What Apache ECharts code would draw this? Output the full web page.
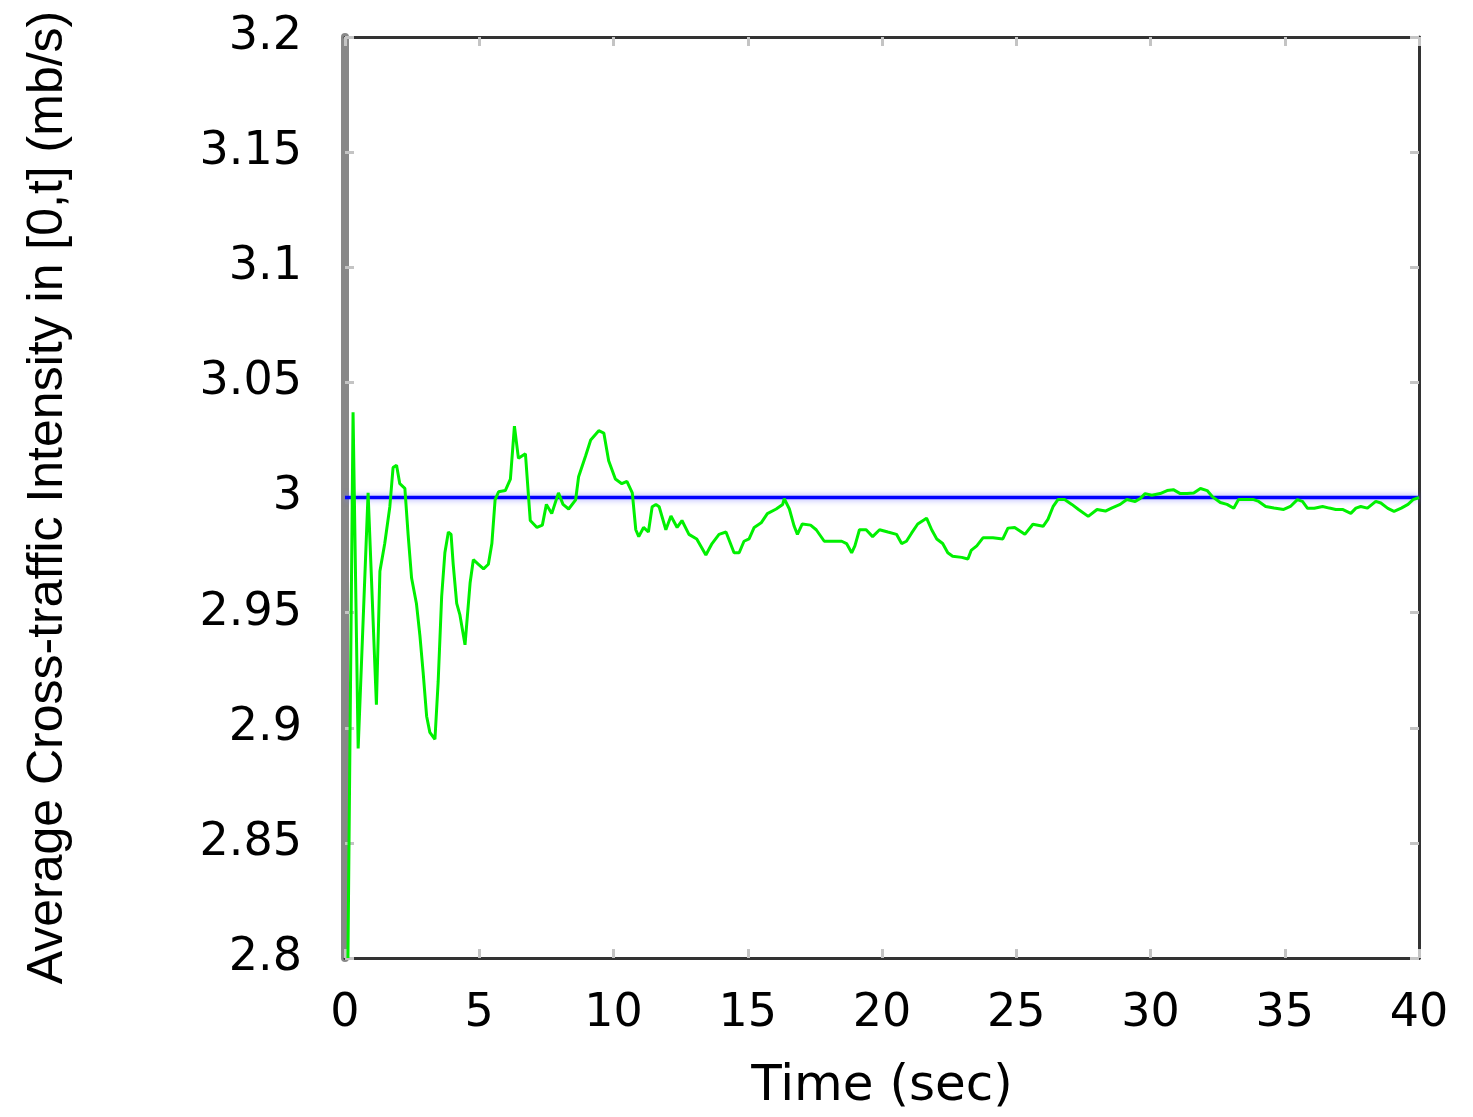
<!DOCTYPE html>
<html>
<head>
<meta charset="utf-8">
<script src="https://cdn.jsdelivr.net/npm/echarts@6/dist/echarts.min.js"></script>
<style>
html,body{margin:0;padding:0;background:#fff;}
#chart{width:1473px;height:1117px;}
</style>
</head>
<body>
<div id="chart"></div>
<script>
// ---- data ----
var timeSec = [0.11,0.30,0.49,0.86,1.17,1.30,1.48,1.67,1.79,1.92,2.04,2.23,2.35,2.48,2.66,2.79,2.91,3.04,3.16,3.35,3.47,3.60,3.72,3.85,3.95,4.03,4.16,4.28,4.47,4.66,4.78,4.97,
  5.16,5.34,5.47,5.59,5.72,5.97,6.16,6.31,6.46,6.72,6.90,7.15,7.35,7.50,7.70,7.95,8.12,8.33,8.59,8.70,8.96,9.15,9.45,9.64,9.82,10.07,10.31,10.50,10.70,10.83,10.94,11.12,11.30,11.44,11.58,11.70,11.95,12.14,12.37,
  12.55,12.81,13.10,13.44,13.67,13.93,14.19,14.49,14.68,14.86,15.05,15.24,15.50,15.73,16.06,16.30,16.36,16.55,16.73,16.85,17.03,17.34,17.55,17.85,18.16,18.50,18.68,18.87,18.99,19.16,19.41,19.65,19.91,20.22,20.54,20.73,20.91,21.10,21.33,21.66,21.85,22.04,22.26,22.45,22.63,22.97,23.20,23.32,23.53,23.76,24.13,24.50,24.69,24.94,
  25.32,25.62,26.00,26.18,26.37,26.55,26.80,27.07,27.32,27.68,28.01,28.32,28.57,28.87,29.12,29.43,29.62,29.80,30.05,30.36,30.62,30.85,31.11,31.36,31.61,31.86,32.11,32.30,32.60,32.85,33.10,33.28,33.53,33.84,34.03,34.29,34.60,34.96,35.21,35.47,35.66,35.85,36.10,36.41,36.66,36.90,37.15,37.46,37.65,37.83,38.08,38.39,38.58,38.84,39.07,39.34,39.59,39.78,40.00];
var avgIntensity = [2.800,3.037,2.891,3.002,2.910,2.968,2.980,2.996,3.013,3.014,3.006,3.004,2.984,2.965,2.954,2.940,2.924,2.905,2.898,2.895,2.920,2.957,2.976,2.985,2.984,2.971,2.954,2.949,2.936,2.963,2.973,2.971,
  2.969,2.971,2.980,2.999,3.0025,3.003,3.008,3.031,3.017,3.019,2.990,2.987,2.988,2.997,2.993,3.002,2.997,2.995,2.999,3.009,3.018,3.025,3.029,3.028,3.016,3.008,3.006,3.007,3.002,2.986,2.983,2.987,2.985,2.996,2.997,2.996,2.986,2.992,2.987,
  2.990,2.984,2.982,2.975,2.980,2.984,2.985,2.976,2.976,2.981,2.982,2.987,2.989,2.993,2.995,2.997,2.9995,2.995,2.9875,2.984,2.9885,2.988,2.986,2.981,2.981,2.981,2.980,2.976,2.979,2.986,2.986,2.983,2.986,2.985,2.984,2.980,2.981,2.9845,2.9885,2.991,2.986,2.982,2.980,2.976,2.9745,2.974,2.9733,2.977,2.979,2.9825,2.9825,2.982,2.9867,2.987,
  2.984,2.9884,2.9875,2.9905,2.996,2.9991,2.9991,2.997,2.9948,2.9918,2.9948,2.9941,2.9955,2.997,2.9991,2.9983,2.9996,3.0017,3.0010,3.0017,3.003,3.0034,3.0017,3.0017,3.002,3.0039,3.003,3.0004,2.9978,2.9970,2.9953,2.9991,2.9991,2.9991,2.9983,2.9961,2.9954,2.9948,2.9961,2.9991,2.9983,2.9953,2.9953,2.9961,2.9954,2.9948,2.9948,2.9931,2.9954,2.9961,2.9954,2.9983,2.9976,2.9953,2.994,2.9954,2.997,2.9991,3.000];
var meanTime = [0, 40];
var meanValue = [3.0, 3.0];
var xTicks = [0,5,10,15,20,25,30,35,40];
var yTickLabels = ['2.8','2.85','2.9','2.95','3','3.05','3.1','3.15','3.2'];
var xName = 'Time (sec)';
var yName = 'Average Cross-traffic Intensity in [0,t] (mb/s)';

var greenData = timeSec.map(function(t,i){return [t, avgIntensity[i]];});
var blueData = meanTime.map(function(t,i){return [t, meanValue[i]];});

var FONT = 'DejaVu Sans';
var chart = echarts.init(document.getElementById('chart'), null, {renderer:'canvas'});
var tickStyle = {show:true, inside:true, length:9, lineStyle:{color:'#c4c4c4', width:3}};
chart.setOption({
  animation:false,
  backgroundColor:'#ffffff',
  grid:{left:345, right:54, top:37, bottom:153, containLabel:false},
  xAxis:[{
    type:'value', min:xTicks[0], max:xTicks[xTicks.length-1], interval:5,
    position:'bottom',
    axisLine:{show:true, onZero:false, lineStyle:{color:'#333333', width:3}},
    axisTick:tickStyle,
    splitLine:{show:false},
    axisLabel:{color:'#000', fontFamily:FONT, fontSize:46, margin:33},
    name:xName, nameLocation:'middle', nameGap:104,
    nameTextStyle:{color:'#000', fontFamily:FONT, fontSize:50}
  },{
    type:'value', min:0, max:40, interval:5, position:'top',
    axisLine:{show:true, onZero:false, lineStyle:{color:'#333333', width:3}},
    axisTick:tickStyle, axisLabel:{show:false}, splitLine:{show:false}
  }],
  yAxis:[{
    type:'value', min:2.8, max:3.2, interval:0.05,
    position:'left',
    axisLine:{show:true, onZero:false, lineStyle:{color:'#888888', width:8}},
    axisTick:tickStyle,
    splitLine:{show:false},
    axisLabel:{color:'#000', fontFamily:FONT, fontSize:46, margin:43,
      formatter:function(v){var k=Math.round((v-2.8)/0.05);return yTickLabels[k];}},
    name:yName, nameLocation:'middle', nameGap:272, nameRotate:90,
    nameTextStyle:{color:'#000', fontFamily:'Liberation Sans', fontSize:50}
  },{
    type:'value', min:2.8, max:3.2, interval:0.05, position:'right',
    axisLine:{show:true, onZero:false, lineStyle:{color:'#333333', width:3}},
    axisTick:tickStyle, axisLabel:{show:false}, splitLine:{show:false}
  }],
  series:[{
    name:'mean', type:'line', data:blueData, showSymbol:false, symbol:'none',
    lineStyle:{color:'#0000ff', width:3.5, shadowColor:'rgba(120,120,255,0.8)', shadowBlur:6},
    z:3
  },{
    name:'average', type:'line', data:greenData, showSymbol:false, symbol:'none',
    lineStyle:{color:'#00f000', width:3},
    z:4
  }]
});
</script>
</body>
</html>
